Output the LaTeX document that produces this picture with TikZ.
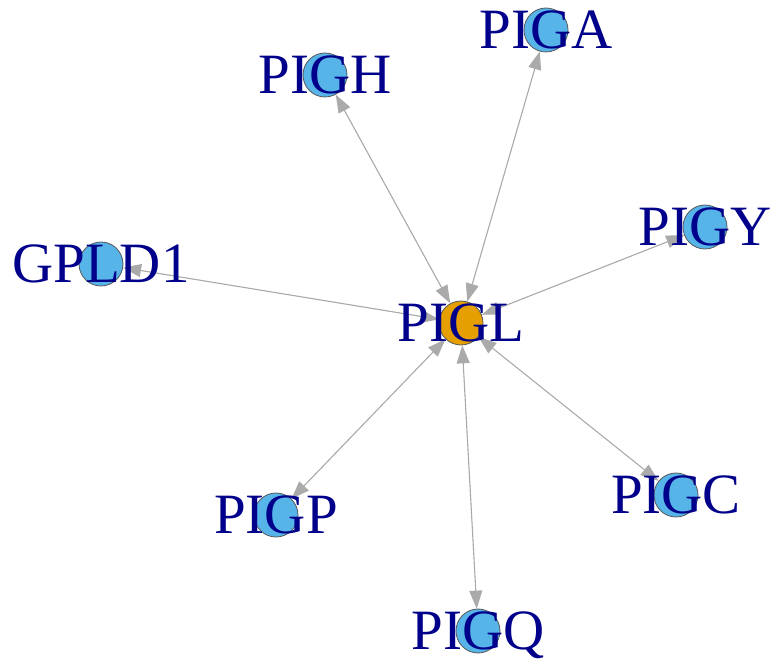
\documentclass[tikz,border=0pt]{standalone}
\usepackage{fontspec}
\setmainfont{Liberation Serif}
\usetikzlibrary{arrows.meta, backgrounds}
\definecolor{geneblue}{HTML}{56B4E9}
\definecolor{hubgold}{HTML}{E69F00}
\definecolor{labelnavy}{HTML}{00008B}
\definecolor{linkgray}{HTML}{AAAAAA}

\begin{document}
\begin{tikzpicture}[
    x=1pt, y=1pt,
    >={Triangle[length=18pt, width=13pt]},
    gene/.style={circle, draw=black!65, line width=0.8pt, fill=geneblue,
                 minimum size=44pt, inner sep=0pt},
    hub/.style={gene, fill=hubgold},
    lbl/.style={font=\fontsize{57}{60}\selectfont, text=labelnavy,
                text height=38pt, text depth=0pt, inner sep=0pt},
    link/.style={<->, line width=1.1pt, draw=linkgray, fill=linkgray}
]

\useasboundingbox (0,0) rectangle (772,662);

% hub gene
\node[hub, label={[lbl]center:PIGL}] (PIGL) at (461,339) {};

% neighbours
\node[gene, label={[lbl]center:GPLD1}] (GPLD1) at (101,398) {};
\node[gene, label={[lbl]center:PIGH}]  (PIGH)  at (325,587) {};
\node[gene, label={[lbl]center:PIGA}]  (PIGA)  at (546,632) {};
\node[gene, label={[lbl]center:PIGY}]  (PIGY)  at (705,435) {};
\node[gene, label={[lbl]center:PIGC}]  (PIGC)  at (676,167) {};
\node[gene, label={[lbl]center:PIGP}]  (PIGP)  at (276,147) {};
\node[gene, label={[lbl]center:PIGQ}]  (PIGQ)  at (478,31) {};

\begin{scope}[on background layer]
\draw[link] (PIGL) -- (GPLD1);
\draw[link] (PIGL) -- (PIGH);
\draw[link] (PIGL) -- (PIGA);
\draw[link] (PIGL) -- (PIGY);
\draw[link] (PIGL) -- (PIGC);
\draw[link] (PIGL) -- (PIGP);
\draw[link] (PIGL) -- (PIGQ);
\end{scope}

\end{tikzpicture}
\end{document}
